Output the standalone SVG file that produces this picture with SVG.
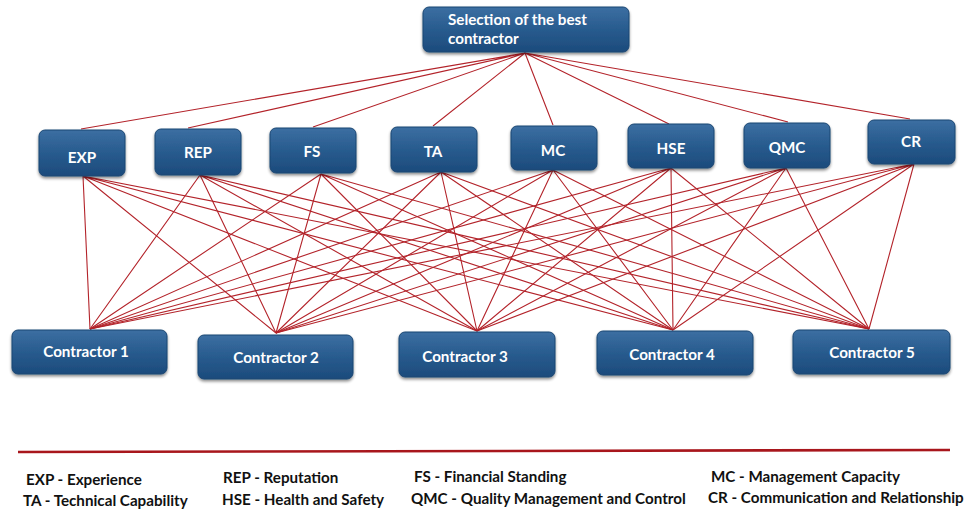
<svg xmlns="http://www.w3.org/2000/svg" width="973" height="512" viewBox="0 0 973 512">
  <defs>
    <linearGradient id="boxFill" x1="0" y1="0" x2="0" y2="1">
      <stop offset="0" stop-color="#3c6fa2"/>
      <stop offset="0.5" stop-color="#285b8e"/>
      <stop offset="1" stop-color="#1c4b7c"/>
    </linearGradient>
    <filter id="shadow" x="-10%" y="-20%" width="120%" height="150%">
      <feGaussianBlur in="SourceAlpha" stdDeviation="1.6"/>
      <feOffset dx="0" dy="2" result="b"/>
      <feComponentTransfer><feFuncA type="linear" slope="0.45"/></feComponentTransfer>
      <feMerge><feMergeNode/><feMergeNode in="SourceGraphic"/></feMerge>
    </filter>
  </defs>
  <style>
    .box { fill: url(#boxFill); stroke: #1b4672; stroke-width: 1; filter: url(#shadow); }
    .lbl { font-family: Lato, "Open Sans", "Liberation Sans", sans-serif; font-weight: bold; font-size: 15.2px; fill: #ffffff; }
    .mid { text-anchor: middle; }
    .link { stroke: #b3232a; stroke-width: 1.1; fill: none; }
    .legend { font-family: Lato, "Open Sans", "Liberation Sans", sans-serif; font-weight: bold; font-size: 15.2px; fill: #111111; }
  </style>

  <rect width="973" height="512" fill="#ffffff"/>

  <!-- connectors: goal to criteria, criteria to contractors -->
  <g id="connectors">
    <path class="link" d="M525 53 L81 129 M525 53 L188 128 M525 53 L313 127 M525 53 L433 126 M525 53 L553 125 M525 53 L669 124 M525 53 L788 122 M525 53 L910 119"/>
    <!-- EXP -->
    <path class="link" d="M83 176 L90 329 M83 176 L276 333 M83 176 L477 331 M83 176 L673 330 M83 176 L869 329"/>
    <!-- REP -->
    <path class="link" d="M200 175 L90 329 M200 175 L276 333 M200 175 L477 331 M200 175 L673 330 M200 175 L869 329"/>
    <!-- FS -->
    <path class="link" d="M321 174 L90 329 M321 174 L276 333 M321 174 L477 331 M321 174 L673 330 M321 174 L869 329"/>
    <!-- TA -->
    <path class="link" d="M441 172 L90 329 M441 172 L276 333 M441 172 L477 331 M441 172 L673 330 M441 172 L869 329"/>
    <!-- MC -->
    <path class="link" d="M553 170 L90 329 M553 170 L276 333 M553 170 L477 331 M553 170 L673 330 M553 170 L869 329"/>
    <!-- HSE -->
    <path class="link" d="M671 168 L90 329 M671 168 L276 333 M671 168 L477 331 M671 168 L673 330 M671 168 L869 329"/>
    <!-- QMC -->
    <path class="link" d="M786 168 L90 329 M786 168 L276 333 M786 168 L477 331 M786 168 L673 330 M786 168 L869 329"/>
    <!-- CR -->
    <path class="link" d="M914 164 L90 329 M914 164 L276 333 M914 164 L477 331 M914 164 L673 330 M914 164 L869 329"/>
  </g>

  <!-- goal -->
  <g id="goal">
    <rect class="box" x="423" y="7" width="206" height="45" rx="6"/>
    <text class="lbl" x="448" y="25">Selection of the best</text>
    <text class="lbl" x="448" y="44">contractor</text>
  </g>

  <!-- criteria -->
  <g id="exp">
    <rect class="box" x="39" y="130" width="86" height="46" rx="6"/>
    <text class="lbl mid" x="82" y="163">EXP</text>
  </g>
  <g id="rep">
    <rect class="box" x="155" y="129" width="86" height="46" rx="6"/>
    <text class="lbl mid" x="198" y="158">REP</text>
  </g>
  <g id="fs">
    <rect class="box" x="270" y="128" width="86" height="45" rx="6"/>
    <text class="lbl mid" x="312" y="157">FS</text>
  </g>
  <g id="ta">
    <rect class="box" x="391" y="127" width="86" height="45" rx="6"/>
    <text class="lbl mid" x="433" y="157">TA</text>
  </g>
  <g id="mc">
    <rect class="box" x="511" y="126" width="86" height="44" rx="6"/>
    <text class="lbl mid" x="553" y="156">MC</text>
  </g>
  <g id="hse">
    <rect class="box" x="628" y="124" width="86" height="44" rx="6"/>
    <text class="lbl mid" x="671" y="154">HSE</text>
  </g>
  <g id="qmc">
    <rect class="box" x="744" y="123" width="86" height="45" rx="6"/>
    <text class="lbl mid" x="787" y="153">QMC</text>
  </g>
  <g id="cr">
    <rect class="box" x="868" y="120" width="87" height="44" rx="6"/>
    <text class="lbl mid" x="911" y="147">CR</text>
  </g>

  <!-- alternatives -->
  <g id="contractor1">
    <rect class="box" x="12" y="330" width="155" height="44" rx="6"/>
    <text class="lbl mid" x="86" y="357">Contractor 1</text>
  </g>
  <g id="contractor2">
    <rect class="box" x="198" y="335" width="155" height="44" rx="6"/>
    <text class="lbl mid" x="276" y="363">Contractor 2</text>
  </g>
  <g id="contractor3">
    <rect class="box" x="399" y="332" width="156" height="45" rx="6"/>
    <text class="lbl mid" x="465" y="362">Contractor 3</text>
  </g>
  <g id="contractor4">
    <rect class="box" x="597" y="331" width="156" height="44" rx="6"/>
    <text class="lbl mid" x="672" y="360">Contractor 4</text>
  </g>
  <g id="contractor5">
    <rect class="box" x="793" y="330" width="157" height="44" rx="6"/>
    <text class="lbl mid" x="872" y="358">Contractor 5</text>
  </g>

  <!-- legend -->
  <g id="legend">
    <line x1="18" y1="452" x2="950" y2="450" stroke="#a8161c" stroke-width="2.6"/>
    <text class="legend" x="26" y="485">EXP - Experience</text>
    <text class="legend" x="23" y="506">TA - Technical Capability</text>
    <text class="legend" x="223" y="483">REP - Reputation</text>
    <text class="legend" x="222" y="505">HSE - Health and Safety</text>
    <text class="legend" x="414" y="482">FS - Financial Standing</text>
    <text class="legend" x="411" y="504">QMC - Quality Management and Control</text>
    <text class="legend" x="711" y="482">MC - Management Capacity</text>
    <text class="legend" x="708" y="503">CR - Communication and Relationship</text>
  </g>
</svg>
